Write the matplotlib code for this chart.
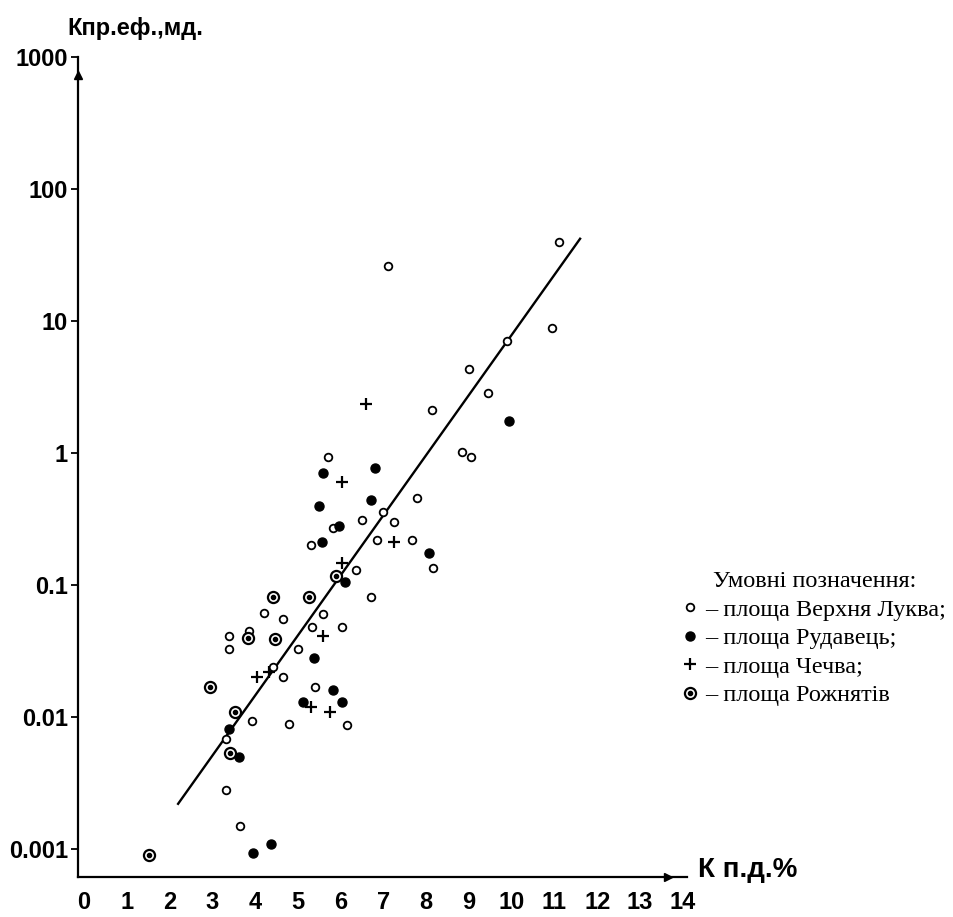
import matplotlib
matplotlib.use("Agg")
import matplotlib.pyplot as plt

# площа Верхня Луква (порожні кружки)
luk_x = [11.1, 7.1, 10.94, 9.9, 9.0, 9.44, 8.13, 8.85, 9.04, 5.7, 7.78, 7.0, 6.5, 7.24,
         5.83, 5.3, 6.86, 7.66, 6.35, 8.15, 6.7, 4.2, 4.65, 5.6, 5.34, 6.04, 3.86, 3.4,
         3.4, 5.0, 4.43, 4.66, 5.39, 3.93, 4.8, 6.14, 3.33, 3.33, 3.65]
luk_y = [40, 26, 8.9, 7.1, 4.3, 2.85, 2.1, 1.02, 0.93, 0.93, 0.46, 0.36, 0.31, 0.30,
         0.27, 0.20, 0.22, 0.22, 0.13, 0.134, 0.081, 0.061, 0.055, 0.060, 0.048, 0.048,
         0.045, 0.041, 0.033, 0.033, 0.024, 0.020, 0.017, 0.0093, 0.0089, 0.0087,
         0.0068, 0.0028, 0.0015]

# площа Рудавець (чорні кружки)
rud_x = [9.93, 5.6, 6.8, 6.7, 5.5, 5.97, 5.57, 6.1, 8.06, 5.37, 5.83, 5.13, 6.04,
         3.4, 3.63, 3.96, 4.38]
rud_y = [1.75, 0.70, 0.77, 0.44, 0.40, 0.28, 0.21, 0.105, 0.175, 0.028, 0.016, 0.013,
         0.013, 0.0081, 0.0050, 0.00093, 0.0011]

# площа Чечва (хрестики)
che_x = [6.6, 6.04, 7.26, 6.04, 5.6, 4.33, 4.05, 5.3, 5.76]
che_y = [2.35, 0.60, 0.21, 0.147, 0.041, 0.022, 0.020, 0.012, 0.011]

# площа Рожнятів (кружок з точкою)
roz_x = [4.43, 5.27, 2.95, 3.54, 3.42, 1.52, 5.9, 3.84, 4.47]
roz_y = [0.081, 0.081, 0.017, 0.011, 0.0053, 0.00090, 0.117, 0.040, 0.039]

# лінія апроксимації
fit_x = [2.2, 11.6]
fit_y = [0.0022, 42]

xticks = list(range(15))
yticks = [0.001, 0.01, 0.1, 1, 10, 100, 1000]
ytick_labels = ["0.001", "0.01", "0.1", "1", "10", "100", "1000"]

legend_title = "Умовні позначення:"
legend_labels = ["– площа Верхня Луква;", "– площа Рудавець;",
                 "– площа Чечва;", "– площа Рожнятів"]

plt.rcParams['font.family'] = ['Liberation Sans', 'DejaVu Sans']
plt.rcParams['font.weight'] = 'bold'

W, H = 954, 917
fig = plt.figure(figsize=(W / 100, H / 100), dpi=100)
ax = fig.add_axes([77.6 / W, 1 - 877 / H, 609.4 / W, 820 / H])
ax.set_yscale('log')
ax.set_xlim(-0.15, 14.1)
ax.set_ylim(10 ** -3.212, 10 ** 3.0)

ax.plot(fit_x, fit_y, color='black', lw=1.7, zorder=2)

h_luk, = ax.plot(luk_x, luk_y, ls='none', marker='o', ms=5.5, mfc='white',
                 mec='black', mew=1.3, zorder=3)
h_rud, = ax.plot(rud_x, rud_y, ls='none', marker='o', ms=6.5, mfc='black',
                 mec='black', zorder=3)
h_che, = ax.plot(che_x, che_y, ls='none', marker='+', ms=8, mew=1.6,
                 color='black', zorder=3)
h_roz1, = ax.plot(roz_x, roz_y, ls='none', marker='o', ms=8, mfc='white',
                  mec='black', mew=1.6, zorder=3)
h_roz2, = ax.plot(roz_x, roz_y, ls='none', marker='o', ms=3, mfc='black',
                  mec='black', zorder=4)

for side in ['top', 'right']:
    ax.spines[side].set_visible(False)
for side in ['left', 'bottom']:
    ax.spines[side].set_linewidth(1.6)

# стрілки на осях
ax.plot([0], [0.978], marker='^', ms=6, color='black', transform=ax.transAxes,
        clip_on=False)
ax.plot([0.969], [0], marker='>', ms=6, color='black', transform=ax.transAxes,
        clip_on=False)

ax.set_xticks(xticks)
ax.set_xticklabels([str(t) for t in xticks])
ax.tick_params(axis='x', length=0, pad=10, labelsize=17)
ax.set_yticks(yticks)
ax.set_yticklabels(ytick_labels)
ax.minorticks_off()
ax.tick_params(axis='y', direction='out', length=5, width=1.3, pad=2, labelsize=17)

fig.text(67 / W, 1 - 28 / H, "Кпр.еф.,мд.", fontsize=17, ha='left', va='center')
fig.text(698 / W, 1 - 870 / H, "К п.д.%", fontsize=20, ha='left', va='center')

serif = {'family': 'Liberation Serif', 'size': 17.5, 'weight': 'normal'}
leg = ax.legend([h_luk, h_rud, h_che, (h_roz1, h_roz2)], legend_labels,
                title=legend_title, loc='upper left',
                bbox_to_anchor=(683 / W, 1 - 571 / H), bbox_transform=fig.transFigure,
                frameon=False, handlelength=0.6, handletextpad=0.3,
                labelspacing=0.27, borderpad=0, borderaxespad=0,
                prop=serif, title_fontproperties=serif)

fig.savefig("out.png", dpi=100)
